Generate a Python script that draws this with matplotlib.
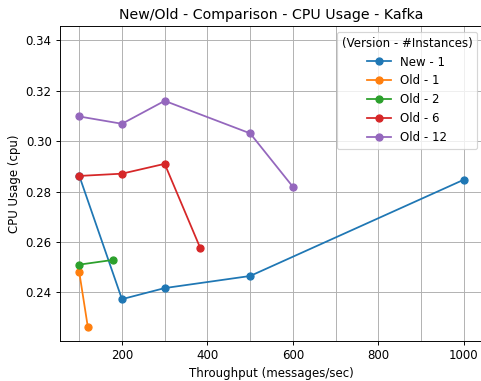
import matplotlib.pyplot as plt
from matplotlib.ticker import MultipleLocator

# throughput (messages/sec) and cpu usage per version / instance count
new_1_x = [100, 200, 300, 500, 1000]
new_1_y = [0.2863, 0.2373, 0.2417, 0.2465, 0.2847]

old_1_x = [100, 120]
old_1_y = [0.2481, 0.2264]

old_2_x = [100, 180]
old_2_y = [0.2510, 0.2529]

old_6_x = [100, 200, 300, 383]
old_6_y = [0.2862, 0.2871, 0.2910, 0.2577]

old_12_x = [100, 200, 300, 500, 600]
old_12_y = [0.3098, 0.3069, 0.3160, 0.3031, 0.2819]

series = [
    ("New - 1", new_1_x, new_1_y),
    ("Old - 1", old_1_x, old_1_y),
    ("Old - 2", old_2_x, old_2_y),
    ("Old - 6", old_6_x, old_6_y),
    ("Old - 12", old_12_x, old_12_y),
]

DPI = 85
fig = plt.figure(figsize=(481 / DPI, 381 / DPI), dpi=DPI)
ax = fig.add_axes([60 / 481, 40 / 381, 423 / 481, 315 / 381])

for label, xs, ys in series:
    ax.plot(xs, ys, marker='o', linestyle='-', label=label)

ax.set_ylim(0.2207, 0.3457)
ax.xaxis.set_major_locator(MultipleLocator(200))
ax.xaxis.set_minor_locator(MultipleLocator(100))
ax.tick_params(axis='x', which='minor', length=0)
ax.grid(True, which='both')

ax.set_title("New/Old - Comparison - CPU Usage - Kafka")
ax.set_xlabel("Throughput (messages/sec)")
ax.set_ylabel("CPU Usage (cpu)")
ax.legend(title="(Version - #Instances)", loc='upper right')

fig.savefig("out.png", dpi=DPI)
